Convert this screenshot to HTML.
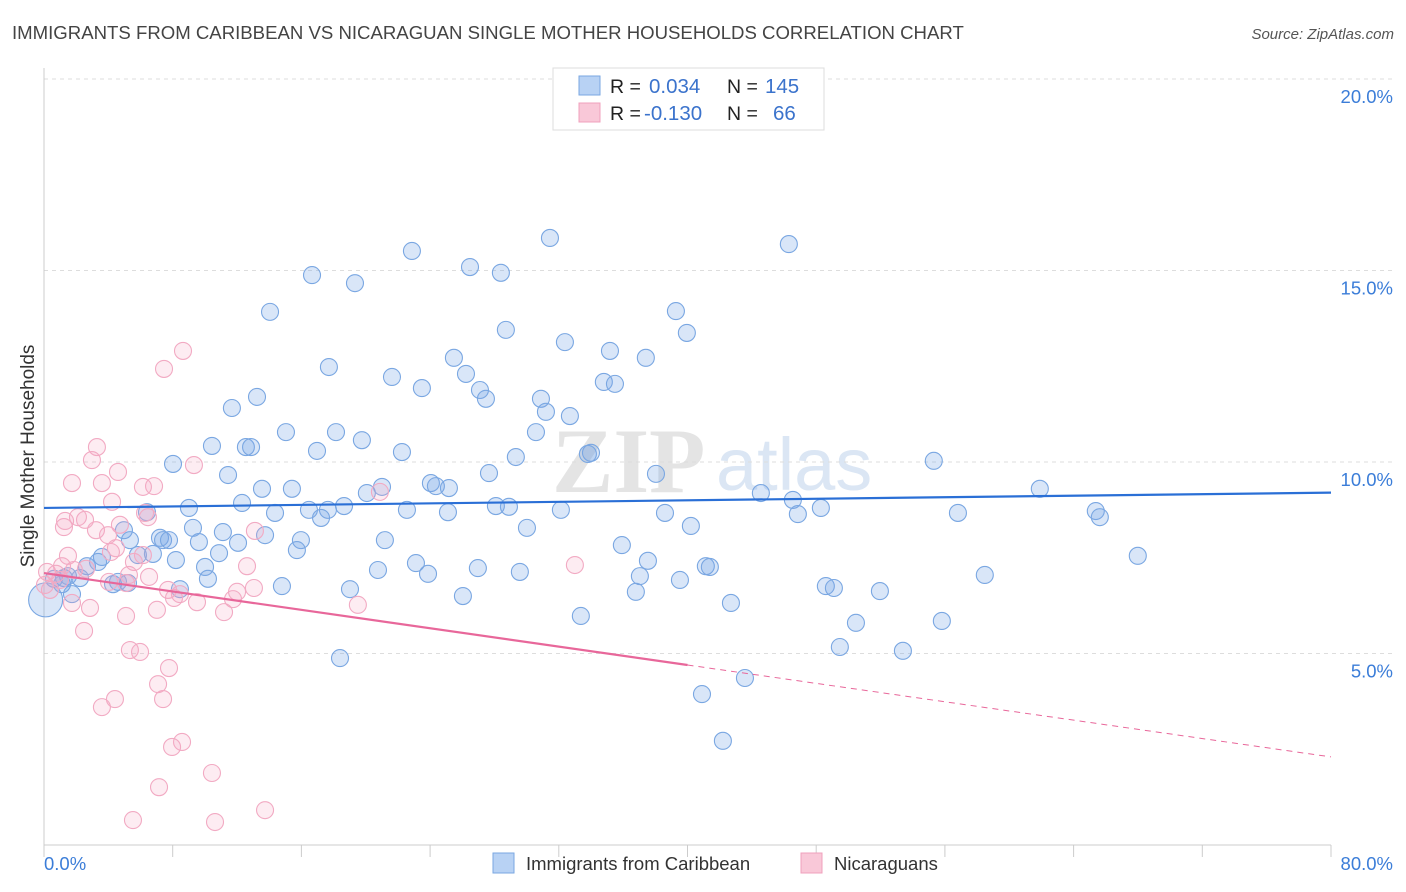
<!DOCTYPE html>
<html><head><meta charset="utf-8"><style>
body{margin:0;background:#fff;font-family:"Liberation Sans",sans-serif;}
svg{display:block}
</style></head><body>
<svg id="chart" width="1406" height="892" viewBox="0 0 1406 892" xmlns="http://www.w3.org/2000/svg">
<text x="12" y="39" font-size="18.6" fill="#444">IMMIGRANTS FROM CARIBBEAN VS NICARAGUAN SINGLE MOTHER HOUSEHOLDS CORRELATION CHART</text>
<text x="1394" y="39" font-size="15" fill="#555" font-style="italic" text-anchor="end">Source: ZipAtlas.com</text>
<g>
<text x="552" y="492" font-size="92" fill="#e4e4e4" font-family="Liberation Serif,serif" font-weight="bold">ZIP</text>
<text x="716" y="490" font-size="74" fill="#dbe6f4">atlas</text>
</g>
<g id="grid"></g>
<g id="axes"></g>
<g id="points"></g>
<g id="trends"></g>
<text transform="translate(34,456) rotate(-90)" font-size="19" fill="#333" text-anchor="middle">Single Mother Households</text>
<g>
<rect x="553" y="68" width="271" height="62" fill="#fff" stroke="#ddd"/>
<rect x="579" y="76" width="21" height="19" fill="#b8d2f4" stroke="#7aa7e2"/>
<rect x="579" y="103" width="21" height="19" fill="#f9c8d8" stroke="#f0a0bc"/>
<text x="610" y="93" font-size="19.5" fill="#222">R =</text>
<text x="649" y="93" font-size="20.5" fill="#3b73cc">0.034</text>
<text x="727" y="93" font-size="19.5" fill="#222">N =</text>
<text x="765" y="93" font-size="20.5" fill="#3b73cc">145</text>
<text x="610" y="120" font-size="19.5" fill="#222">R =</text>
<text x="644" y="120" font-size="20.5" fill="#3b73cc">-0.130</text>
<text x="727" y="120" font-size="19.5" fill="#222">N =</text>
<text x="773" y="120" font-size="20.5" fill="#3b73cc">66</text>
</g>
<g>
<rect x="493" y="853" width="21" height="20" fill="#b8d2f4" stroke="#7aa7e2"/>
<text x="526" y="870" font-size="18.5" fill="#333">Immigrants from Caribbean</text>
<rect x="801" y="853" width="21" height="20" fill="#f9c8d8" stroke="#f0a0bc"/>
<text x="834" y="870" font-size="18.5" fill="#333">Nicaraguans</text>
</g>
</svg>
<script>
const yTicks=[5,10,15,20];
const xTickLabels=["0.0%","80.0%"];
const blueX=[31.45,22.87,46.30,16.66,19.33,26.48,28.40,14.05,39.28,28.71,39.96,32.38,35.18,37.41,25.48,17.71,26.23,21.63,34.80,35.49,23.49,27.10,27.47,13.24,30.89,11.68,31.20,32.69,15.04,18.15,30.58,19.76,10.44,12.55,12.87,22.25,16.97,34.00,33.81,29.33,8.02,55.31,38.04,27.66,11.44,24.05,24.36,25.17,13.55,15.41,20.07,21.01,44.56,61.90,46.55,12.31,18.65,9.01,16.47,17.65,22.56,28.09,28.90,32.13,48.29,65.38,6.40,14.36,17.22,25.11,38.60,46.86,56.81,65.63,9.26,4.97,11.12,13.74,40.21,30.02,5.34,7.21,7.40,12.06,7.77,9.63,21.19,15.97,35.92,15.72,3.60,5.84,6.77,10.88,8.20,37.54,67.99,2.67,41.14,41.39,26.97,29.58,23.12,20.76,10.01,3.36,23.87,37.04,1.49,2.24,10.19,1.24,4.29,0.62,1.12,8.45,14.79,4.60,5.22,48.60,49.10,51.96,19.02,39.53,58.48,26.04,36.79,1.74,0.1,42.70,33.37,50.47,55.81,49.47,53.39,18.40,43.57,40.90,42.20];
const blueY=[15.85,15.51,15.69,14.88,14.67,15.09,14.94,13.92,13.94,13.45,13.37,13.13,12.90,12.72,12.72,12.48,12.30,12.22,12.09,12.04,11.93,11.88,11.65,11.70,11.65,11.41,11.31,11.20,10.78,10.78,10.78,10.57,10.42,10.39,10.39,10.26,10.29,10.24,10.21,10.13,9.95,10.03,9.69,9.71,9.66,9.45,9.37,9.32,9.30,9.30,9.19,9.35,9.19,9.30,9.01,8.93,8.85,8.80,8.75,8.75,8.75,8.85,8.83,8.75,8.80,8.72,8.69,8.67,8.54,8.69,8.67,8.64,8.67,8.56,8.28,8.22,8.17,8.09,8.33,8.28,7.96,8.02,7.96,7.89,7.96,7.91,7.96,7.96,7.83,7.70,7.52,7.57,7.60,7.62,7.44,7.42,7.55,7.28,7.28,7.26,7.23,7.13,7.36,7.18,7.26,7.39,7.08,7.02,7.02,6.97,6.95,6.97,6.81,6.95,6.81,6.68,6.76,6.87,6.84,6.76,6.71,6.63,6.68,6.92,7.05,6.50,6.61,6.55,6.40,6.32,5.98,5.80,5.85,5.17,5.07,4.88,4.36,3.94,2.72];
const pinkX=[8.64,7.46,3.29,2.98,4.60,9.32,1.74,3.60,6.84,6.15,4.23,2.11,6.46,1.24,3.23,4.72,2.55,1.31,13.11,6.28,3.98,20.88,4.16,1.49,6.15,4.47,5.59,12.62,33.00,1.12,1.86,0.19,0.75,2.61,5.28,6.53,5.10,7.71,12.00,13.05,4.04,8.45,8.08,9.51,11.75,1.74,2.86,5.10,7.02,11.19,19.51,2.49,5.34,5.97,7.77,7.09,7.40,4.41,3.60,8.58,7.96,10.44,7.15,13.74,5.53,10.63,0.37,0.06,0.99];
const pinkY=[12.90,12.43,10.39,10.05,9.74,9.92,9.45,9.45,9.37,9.35,8.96,8.56,8.56,8.30,8.22,8.36,8.49,8.46,8.20,8.67,8.09,9.22,7.65,7.55,7.57,7.75,7.39,7.28,7.31,7.28,7.18,7.13,7.08,7.21,7.05,7.00,6.84,6.66,6.61,6.71,6.87,6.55,6.45,6.34,6.42,6.32,6.19,5.98,6.14,6.08,6.27,5.59,5.09,5.04,4.62,4.20,3.81,3.81,3.60,2.69,2.56,1.88,1.51,0.91,0.65,0.60,6.66,6.79,6.92];
const blueTrend=[8.8,9.2];   // y at x=0 and x=80
const pinkTrend=[7.1,2.3];   // y at x=0 and x=80
const pinkSolidEnd=40;
const NS="http://www.w3.org/2000/svg";
const X0=44,X1=1331,Y0=845,YT=79;
const sx=v=>X0+(v/80)*(X1-X0);
const sy=v=>Y0-(v/20)*(Y0-YT);
function mk(tag,attrs,parent){const e=document.createElementNS(NS,tag);for(const k in attrs)e.setAttribute(k,attrs[k]);parent.appendChild(e);return e;}
const grid=document.getElementById('grid'),axes=document.getElementById('axes'),pts=document.getElementById('points'),tr=document.getElementById('trends');
yTicks.forEach(t=>{
 const l=mk('line',{x1:X0,x2:1393,y1:sy(t),y2:sy(t),stroke:'#ddd','stroke-dasharray':'4,4'},grid);
 
 
 const tx=mk('text',{x:1393,y:sy(t)+24,'font-size':18.5,fill:'#3b7dd8','text-anchor':'end'},grid);
 tx.textContent=t.toFixed(1)+'%';
 
 
});
const xa=mk('line',{x1:X0,x2:X1,y1:Y0,y2:Y0,stroke:'#ccc'},axes);


const ya=mk('line',{x1:X0,x2:X0,y1:68,y2:Y0,stroke:'#ccc'},axes);


for(let i=0;i<=10;i++){
 const t=mk('line',{x1:sx(i*8),x2:sx(i*8),y1:Y0,y2:Y0+12,stroke:'#ccc'},axes);
 
 
}
const xl0=mk('text',{x:44,y:870,'font-size':18.5,fill:'#3b7dd8'},axes);
xl0.textContent=xTickLabels[0];


const xl1=mk('text',{x:1393,y:870,'font-size':18.5,fill:'#3b7dd8','text-anchor':'end'},axes);
xl1.textContent=xTickLabels[1];


function dots(xs,ys,fill,stroke,name,allowBig){
 xs.forEach((x,i)=>{
  const big=allowBig&&x<0.2;
  const c=mk('circle',{cx:sx(x),cy:sy(ys[i]),r:big?17:8.5,fill:fill,stroke:stroke,'stroke-width':1.1},pts);
  
  
 });
}
dots(blueX,blueY,'rgba(120,165,230,0.28)','#7aa7e2','point-caribbean',true);
dots(pinkX,pinkY,'rgba(245,170,195,0.22)','#f2aac3','point-nicaraguans',false);
const bt=mk('line',{x1:sx(0),y1:sy(blueTrend[0]),x2:sx(80),y2:sy(blueTrend[1]),stroke:'#2a6fd6','stroke-width':2.2},tr);


const pm=pinkTrend[0]+(pinkTrend[1]-pinkTrend[0])*pinkSolidEnd/80;
const pt=mk('line',{x1:sx(0),y1:sy(pinkTrend[0]),x2:sx(pinkSolidEnd),y2:sy(pm),stroke:'#e8679a','stroke-width':2.2},tr);


const pd=mk('line',{x1:sx(pinkSolidEnd),y1:sy(pm),x2:sx(80),y2:sy(pinkTrend[1]),stroke:'#e8679a','stroke-width':1,'stroke-dasharray':'6,5'},tr);


</script>
</body></html>
